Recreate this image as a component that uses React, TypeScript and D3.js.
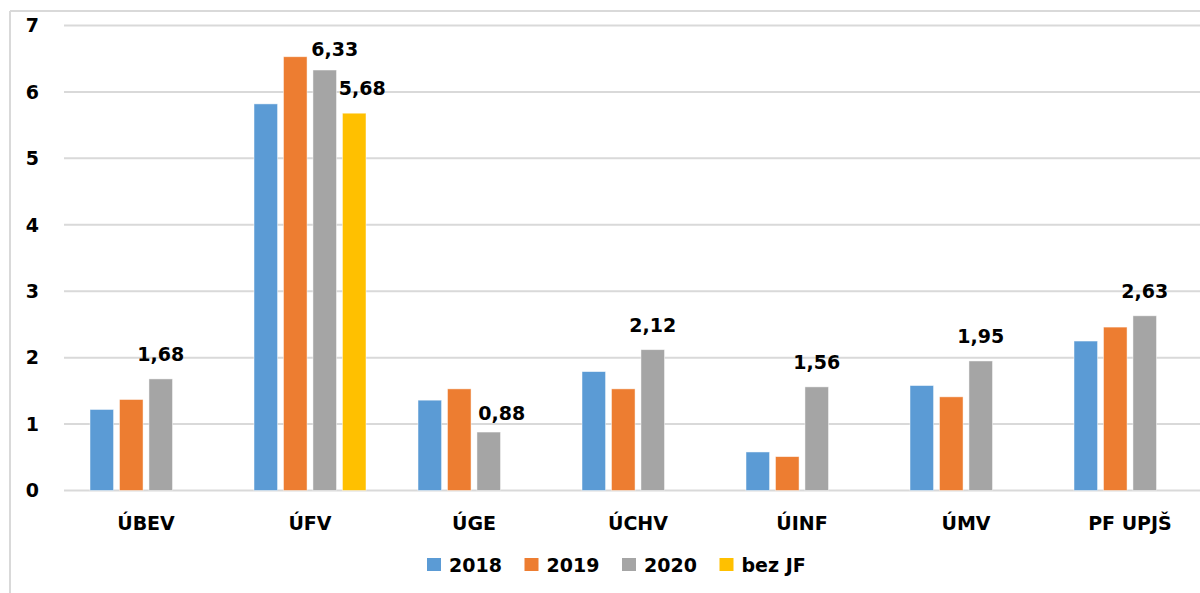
import React from "react";
import * as d3 from "d3";

const width = 1200;
const height = 593;
const margin = { top: 25.5, right: -12, bottom: 102.5, left: 64 };

const categories = ["ÚBEV", "ÚFV", "ÚGE", "ÚCHV", "ÚINF", "ÚMV", "PF UPJŠ"];
const seriesNames = ["2018", "2019", "2020", "bez JF"];
const values2018 = [1.22, 5.82, 1.36, 1.79, 0.58, 1.58, 2.25];
const values2019 = [1.37, 6.53, 1.53, 1.53, 0.51, 1.41, 2.46];
const values2020 = [1.68, 6.33, 0.88, 2.12, 1.56, 1.95, 2.63];
const valuesBezJF = [null, 5.68, null, null, null, null, null];
const yTicks = [0, 1, 2, 3, 4, 5, 6, 7];

// series that carry data labels
const labelled = ["2020", "bez JF"];
// small manual nudges of some labels, like in the original chart [dx, dy]
const labelNudge: Record<string, [number, number]> = {
  "ÚFV|2020": [10, 4],
  "ÚFV|bez JF": [8, 0],
  "ÚGE|2020": [13, 6],
};

const colors = ["#5b9bd5", "#ed7d31", "#a5a5a5", "#ffc000"];
const font = "'DejaVu Sans', Verdana, sans-serif";

export default function App() {
  const series = [values2018, values2019, values2020, valuesBezJF];

  const x = d3
    .scaleBand()
    .domain(categories)
    .range([margin.left, width - margin.right])
    .padding(0);

  const inner = d3
    .scaleBand()
    .domain(seriesNames)
    .range([-56, 56])
    .paddingInner(0.2)
    .paddingOuter(0);

  const y = d3
    .scaleLinear()
    .domain([0, 7])
    .range([height - margin.bottom, margin.top]);

  const color = d3.scaleOrdinal<string, string>().domain(seriesNames).range(colors);

  const bars: any[] = [];
  categories.forEach((c, i) => {
    seriesNames.forEach((s, j) => {
      const v = series[j][i];
      if (v == null) return;
      const cx = x(c)! + x.bandwidth() / 2;
      bars.push({
        key: c + "|" + s,
        x: cx + inner(s)!,
        y: y(v),
        h: y(0) - y(v),
        fill: color(s),
        value: v,
        label: labelled.includes(s),
      });
    });
  });

  const legendX = d3.scaleBand().domain(seriesNames).range([427, 817]);

  return (
    <svg
      width={width}
      height={height}
      style={{ position: "absolute", left: 0, top: 0, background: "#fff" }}
      fontFamily={font}
      fontWeight="bold"
    >
      <rect x={0} y={0} width={width} height={height} fill="#fff" />
      {/* chart border */}
      <line x1={10} x2={width} y1={11} y2={11} stroke="#d9d9d9" strokeWidth={2} />
      <line x1={10} x2={10} y1={11} y2={height} stroke="#d9d9d9" strokeWidth={2} />

      {yTicks.map(t => (
        <g key={t}>
          <line
            x1={margin.left}
            x2={width - margin.right}
            y1={y(t)}
            y2={y(t)}
            stroke="#d9d9d9"
            strokeWidth={2}
          />
          <text x={39} y={y(t)} dy="0.36em" textAnchor="end" fontSize={19} fill="#000">
            {t}
          </text>
        </g>
      ))}

      {bars.map(d => (
        <rect
          key={d.key}
          x={d.x}
          y={d.y}
          width={inner.bandwidth()}
          height={d.h}
          fill={d.fill}
          stroke="#fff"
          strokeOpacity={0.6}
          strokeWidth={0.8}
        />
      ))}

      {bars
        .filter(d => d.label)
        .map(d => {
          const [dx, dy] = labelNudge[d.key] || [0, 0];
          return (
            <text
              key={"l" + d.key}
              x={d.x + inner.bandwidth() / 2 + dx}
              y={d.y - 18 + dy}
              textAnchor="middle"
              fontSize={19}
              fill="#000"
            >
              {d3.format(".2f")(d.value).replace(".", ",")}
            </text>
          );
        })}

      {categories.map(c => (
        <text
          key={c}
          x={x(c)! + x.bandwidth() / 2}
          y={530}
          textAnchor="middle"
          fontSize={19}
          fill="#000"
        >
          {c}
        </text>
      ))}

      {seriesNames.map(s => (
        <g key={s} transform={`translate(${legendX(s)}, 0)`}>
          <rect x={0} y={558} width={14} height={13} fill={color(s)} />
          <text x={22} y={565} dy="0.36em" fontSize={19} fill="#000">
            {s}
          </text>
        </g>
      ))}
    </svg>
  );
}
